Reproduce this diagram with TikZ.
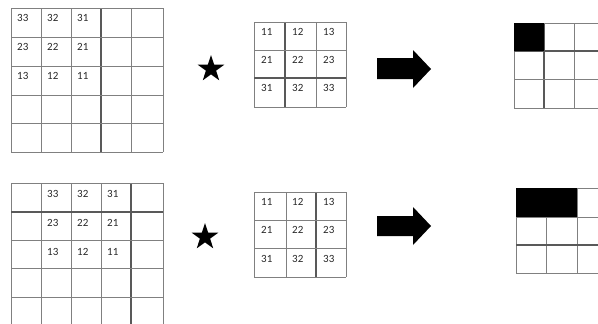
\documentclass[tikz,border=0pt]{standalone}
\usepackage{fontspec}
\setmainfont{Carlito}
\usetikzlibrary{shapes.geometric}

\tikzset{
  gridline/.style={draw=black!50, line width=1pt},
  darkline/.style={draw=black!65, line width=1.1pt},
  cellnum/.style={anchor=north west, inner sep=0pt, text=black!85, font=\fontsize{11}{13}\selectfont},
  bigstar/.style={star, star points=5, star point ratio=2.6, fill=black, minimum size=28pt, inner sep=0pt},
}

\begin{document}
\begin{tikzpicture}[x=1pt, y=-1pt]
    \useasboundingbox (0,0) rectangle (598,324);

    % Input, kernel at first position
    \foreach \x in {11,41,71,131,163} \draw[gridline] (\x,8) -- (\x,152);
    \draw[darkline] (101,8) -- (101,152);
    \foreach \y in {8,37,66,95,123,152} \draw[gridline] (11,\y) -- (163,\y);
    \foreach \num [count=\i from 0] in {33,32,31,23,22,21,13,12,11} {
        \pgfmathtruncatemacro\c{mod(\i,3)}
        \pgfmathtruncatemacro\r{div(\i,3)}
        \node[cellnum] (inA\num) at ({17+30*\c},{14+29*\r}) {\num};
    }

    % Input, kernel shifted one column
    \foreach \x in {11,41,71,101,163} \draw[gridline] (\x,183) -- (\x,324);
    \draw[darkline] (131,183) -- (131,324);
    \foreach \y in {183,240,268,297} \draw[gridline] (11,\y) -- (163,\y);
    \draw[darkline] (11,212) -- (163,212);
    \foreach \num [count=\i from 0] in {33,32,31,23,22,21,13,12,11} {
        \pgfmathtruncatemacro\c{mod(\i,3)}
        \pgfmathtruncatemacro\r{div(\i,3)}
        \node[cellnum] (inB\num) at ({47+30*\c},{190+29*\r}) {\num};
    }

    % Convolution stars
    \node[bigstar] (starA) at (211,69) {};
    \node[bigstar] (starB) at (205,237) {};

    % Kernels
    \foreach \x in {254,316,346} \draw[gridline] (\x,22) -- (\x,107);
    \draw[darkline] (285,22) -- (285,107);
    \foreach \y in {22,50,107} \draw[gridline] (254,\y) -- (346,\y);
    \draw[darkline] (254,78) -- (346,78);
    \foreach \x in {254,286,346} \draw[gridline] (\x,192) -- (\x,277);
    \draw[darkline] (316,192) -- (316,277);
    \foreach \y in {192,220,248,277} \draw[gridline] (254,\y) -- (346,\y);
    \foreach \num [count=\i from 0] in {11,12,13,21,22,23,31,32,33} {
        \pgfmathtruncatemacro\c{mod(\i,3)}
        \pgfmathtruncatemacro\r{div(\i,3)}
        \node[cellnum] (kA\num) at ({261+31*\c},{28+28*\r}) {\num};
        \node[cellnum] (kB\num) at ({261+31*\c},{198+28.5*\r}) {\num};
    }

    % Block arrows
    \fill (377,58) -- (413,58) -- (413,50) -- (431,69) -- (413,88) -- (413,79) -- (377,79) -- cycle;
    \fill (377,216) -- (413,216) -- (413,207) -- (431,226) -- (413,245) -- (413,236) -- (377,236) -- cycle;

    % Outputs
    \foreach \x in {514,574} \draw[gridline] (\x,23) -- (\x,108);
    \draw[darkline] (544,23) -- (544,108);
    \foreach \y in {23,79,108} \draw[gridline] (514,\y) -- (598,\y);
    \draw[darkline] (514,51) -- (598,51);
    \fill (514,23) rectangle (544,51);
    \foreach \x in {516,546,577} \draw[gridline] (\x,188) -- (\x,273);
    \foreach \y in {188,217,273} \draw[gridline] (516,\y) -- (598,\y);
    \draw[darkline] (516,245) -- (598,245);
    \fill (516,188) rectangle (577,217);
\end{tikzpicture}
\end{document}
